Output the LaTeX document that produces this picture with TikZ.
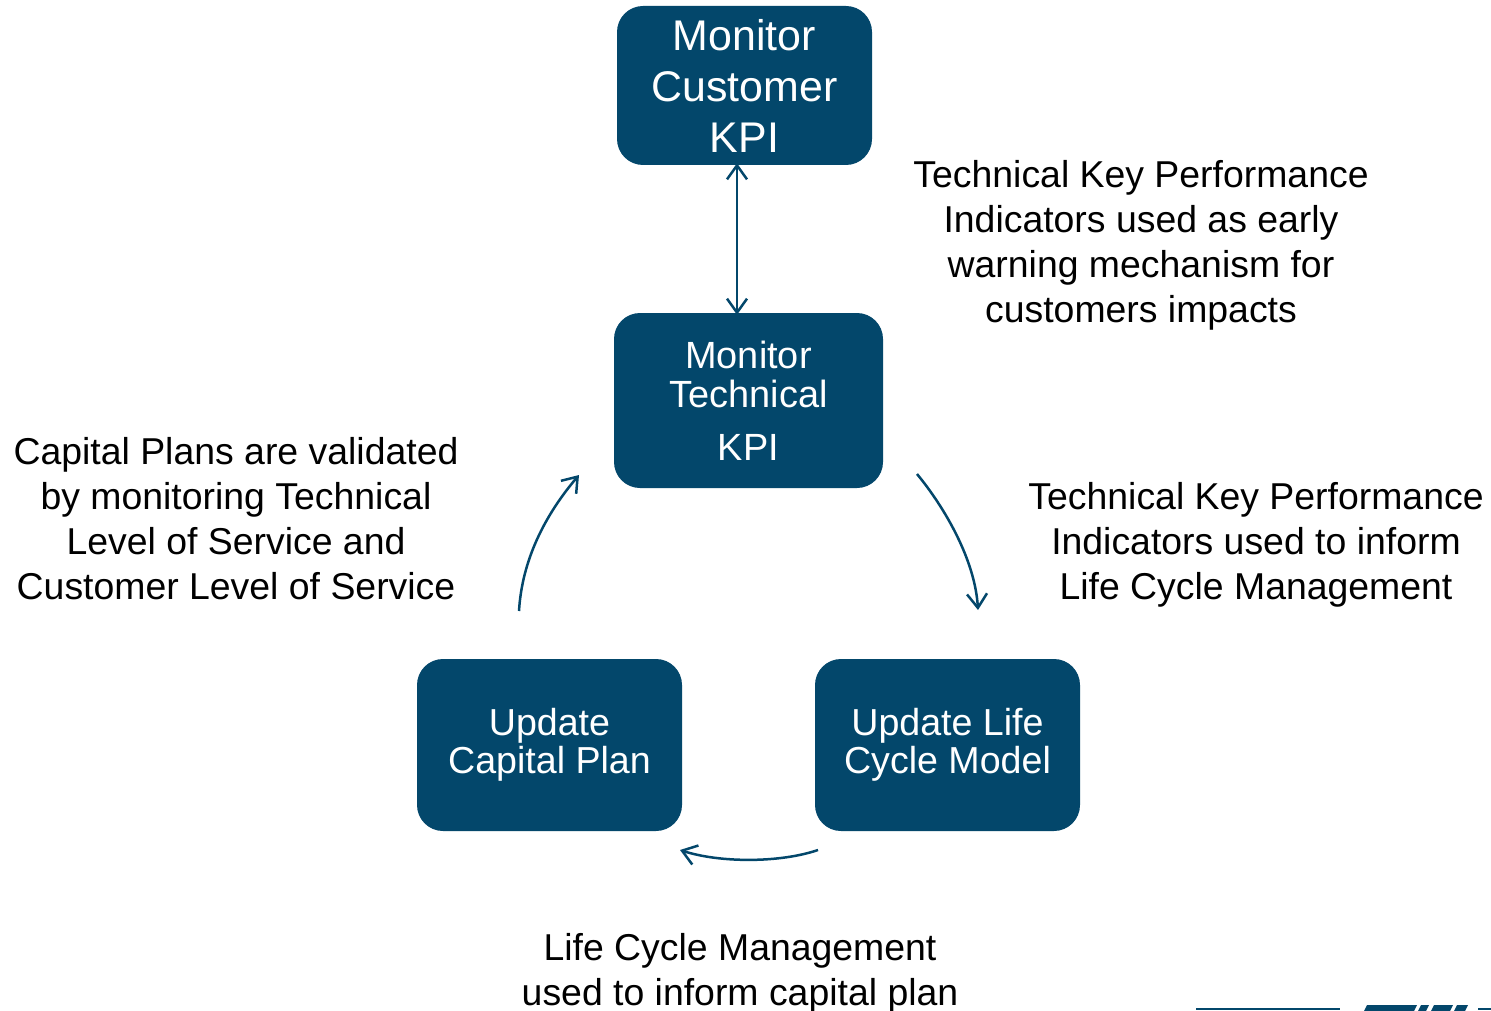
\documentclass[tikz,border=0pt]{standalone}
\usepackage{fontspec}
\setmainfont{Liberation Sans}
\usetikzlibrary{arrows.meta}
\definecolor{kpiblue}{RGB}{3,71,107}
\tikzset{
  kpibox/.style={rectangle, rounded corners=26pt, fill=kpiblue, text=white, inner sep=0pt, align=center},
  note/.style={align=center, text=black, inner sep=0pt, font=\fontsize{37.4}{45}\selectfont},
  flow/.style={draw=kpiblue, line width=2.5pt, -{Straight Barb[length=14pt,width=20pt]}},
  flowboth/.style={draw=kpiblue, line width=2.5pt, {Straight Barb[length=14pt,width=20pt]}-{Straight Barb[length=14pt,width=20pt]}},
  logo/.style={fill=kpiblue, draw=none}
}
\begin{document}
\begin{tikzpicture}[x=1pt,y=-1pt]
\useasboundingbox (0,0) rectangle (1491,1011);
% boxes
\node[kpibox, minimum width=255pt, minimum height=159pt, font=\fontsize{42.9}{51}\selectfont] (cust) at (744.5,85.5) {Monitor\\Customer\\KPI};
\node[kpibox, minimum width=269pt, minimum height=175pt, font=\fontsize{37.9}{39}\selectfont] (tech) at (748.5,400.5) {Monitor\\Technical\\[14pt]KPI};
\node[kpibox, minimum width=265pt, minimum height=172pt, font=\fontsize{37.6}{38}\selectfont] (cap) at (549.5,745) {Update\\Capital Plan};
\node[kpibox, minimum width=265pt, minimum height=172pt, font=\fontsize{37.6}{38}\selectfont] (life) at (947.5,745) {Update Life\\Cycle Model};
% notes
\node[note] (n1) at (1141,245) {Technical Key Performance\\Indicators used as early\\warning mechanism for\\customers impacts};
\node[note] (n2) at (1256,545) {Technical Key Performance\\Indicators used to inform\\Life Cycle Management};
\node[note] (n3) at (236,519) {Capital Plans are validated\\by monitoring Technical\\Level of Service and\\Customer Level of Service};
\node[note] (n4) at (740,973) {Life Cycle Management\\used to inform capital plan};
% connectors
\draw[flowboth] ([xshift=-7.5pt,yshift=2pt]cust.south) -- ([xshift=-11.5pt,yshift=-2pt]tech.north);
\coordinate (l1) at (519,611);
\coordinate (l2) at (579,475);
\draw[flow] (l1) .. controls (522,560) and (545,515) .. (l2);
\coordinate (r1) at (917,474);
\coordinate (r2) at (978,610);
\draw[flow] (r1) .. controls (945,508) and (975,560) .. (r2);
\coordinate (b1) at (818,850);
\coordinate (b2) at (680,850);
\draw[flow] (b1) .. controls (780,863) and (720,863) .. (b2);
% logo fragment
\draw[kpiblue, line width=1.5pt] (1196,1009) -- (1340,1009);
\fill[logo] (1367,1005) -- (1417,1005) -- (1414,1011) -- (1364,1011) -- cycle;
\fill[logo] (1421,1005) -- (1429,1005) -- (1426,1011) -- (1418,1011) -- cycle;
\fill[logo] (1434,1005) -- (1453,1005) -- (1450,1011) -- (1431,1011) -- cycle;
\fill[logo] (1457,1005) -- (1468,1005) -- (1465,1011) -- (1454,1011) -- cycle;
\draw[kpiblue, line width=1.5pt] (1478,1009) -- (1491,1009);
\end{tikzpicture}
\end{document}
